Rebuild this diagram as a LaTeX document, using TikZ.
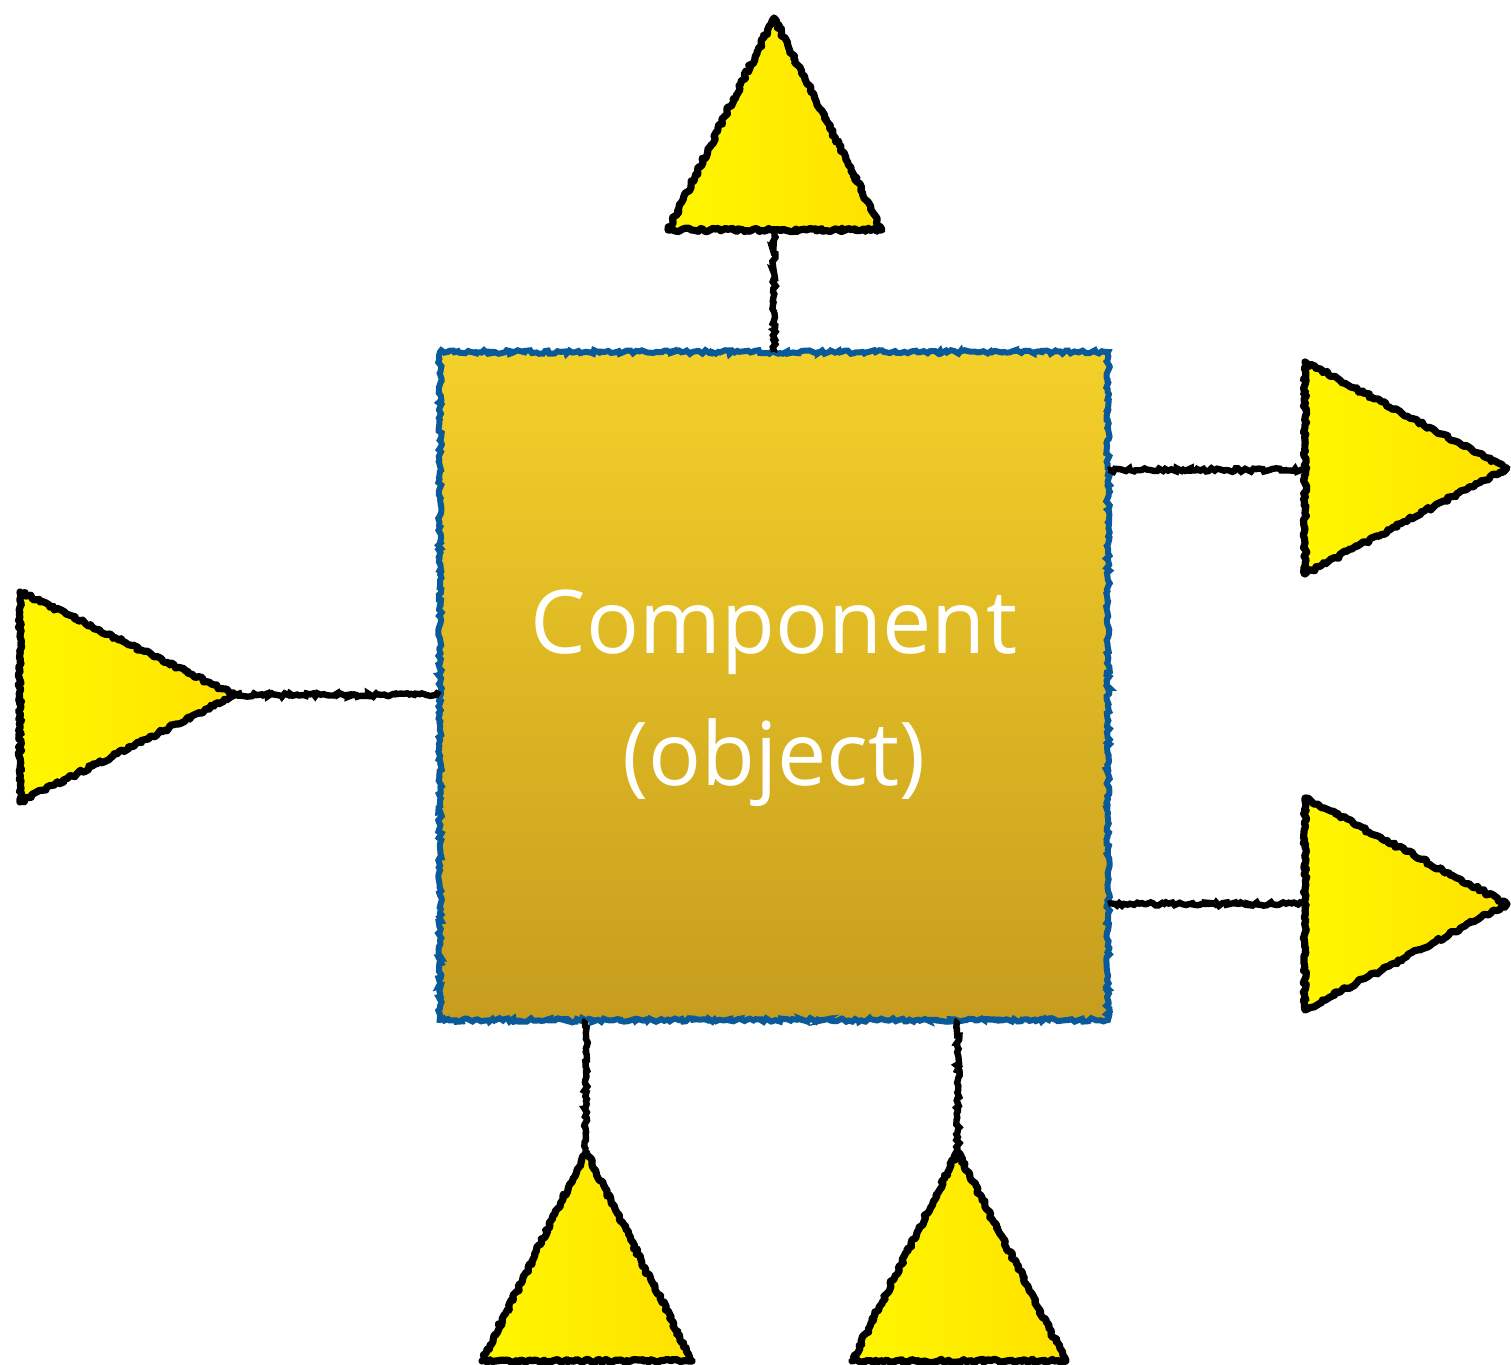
\documentclass[tikz,border=0pt]{standalone}
\usepackage{fontspec}
\setmainfont{Open Sans}
\usetikzlibrary{decorations.pathmorphing}
\definecolor{boxblue}{HTML}{0A5A9A}
\definecolor{boxtop}{HTML}{F4D02A}
\definecolor{boxbot}{HTML}{C69D1E}
\definecolor{triL}{HTML}{FFF700}
\definecolor{triR}{HTML}{FFE100}
\tikzset{
  sketch/.style={decorate,decoration={random steps,segment length=1.4pt,amplitude=0.9pt}},
  port/.style={left color=triL,right color=triR},
  portline/.style={draw=black,line width=3.6pt,line join=round,sketch},
  wire/.style={draw=black,line width=3.2pt,sketch},
  compbox/.style={top color=boxtop,bottom color=boxbot},
  boxline/.style={draw=boxblue,line width=3pt,sketch},
  lbl/.style={text=white,font=\fontsize{44}{66}\selectfont,align=center}
}
\begin{document}
\begin{tikzpicture}[x=0.5pt,y=-0.5pt]
\useasboundingbox (0,0) rectangle (1511,1365);
% box
\path[compbox] (440,352) rectangle (1108,1020);
\draw[boxline] (440,352) rectangle (1108,1020);
\node[lbl] (comp) at (774,698) {Component\\(object)};
% named anchor coordinates
\coordinate (btop) at (774,352);
\coordinate (bleft) at (440,695);
\coordinate (br1) at (1108,470);
\coordinate (br2) at (1108,904);
\coordinate (bb1) at (586,1020);
\coordinate (bb2) at (958,1020);
\coordinate (ttop) at (774,230);
\coordinate (tleft) at (235,695);
\coordinate (tr1) at (1305,470);
\coordinate (tr2) at (1305,904);
\coordinate (tb1) at (586,1150);
\coordinate (tb2) at (958,1150);
% wires
\draw[wire] (ttop) -- (btop);
\draw[wire] (tleft) -- (bleft);
\draw[wire] (br1) -- (tr1);
\draw[wire] (br2) -- (tr2);
\draw[wire] (bb1) -- (tb1);
\draw[wire] (bb2) -- (tb2);
% triangles
\path[port] (774,18) -- (882,230) -- (668,230) -- cycle;
\draw[portline] (774,18) -- (882,230) -- (668,230) -- cycle;
\path[port] (20,592) -- (235,695) -- (20,802) -- cycle;
\draw[portline] (20,592) -- (235,695) -- (20,802) -- cycle;
\path[port] (1305,362) -- (1507,468) -- (1305,574) -- cycle;
\draw[portline] (1305,362) -- (1507,468) -- (1305,574) -- cycle;
\path[port] (1305,798) -- (1507,904) -- (1305,1010) -- cycle;
\draw[portline] (1305,798) -- (1507,904) -- (1305,1010) -- cycle;
\path[port] (586,1152) -- (692,1361) -- (482,1361) -- cycle;
\draw[portline] (586,1152) -- (692,1361) -- (482,1361) -- cycle;
\path[port] (958,1152) -- (1066,1361) -- (852,1361) -- cycle;
\draw[portline] (958,1152) -- (1066,1361) -- (852,1361) -- cycle;
\end{tikzpicture}
\end{document}
